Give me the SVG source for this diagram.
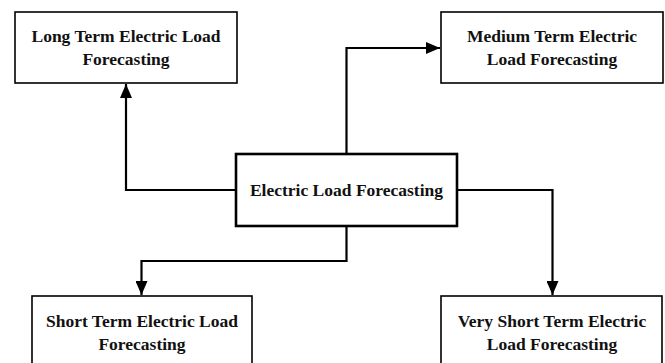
<svg xmlns="http://www.w3.org/2000/svg" width="665" height="363" viewBox="0 0 665 363">
<style>
.box{fill:#fff;stroke:#000;stroke-width:1.6}
.main{fill:#fff;stroke:#000;stroke-width:2.6}
.t{font-family:"Liberation Serif","Times New Roman",serif;font-weight:bold;font-size:17.5px;fill:#111;text-anchor:middle}
.c{fill:none;stroke:#000;stroke-width:2.2}
</style>
<defs>
<marker id="ah" viewBox="0 0 14 12" refX="14" refY="6" markerWidth="14" markerHeight="12" markerUnits="userSpaceOnUse" orient="auto">
<path d="M0,0 L14,6 L0,12 Z" fill="#000"/>
</marker>
</defs>
<rect width="665" height="363" fill="#fff"/>
<g id="connectors">
<path class="c" d="M236,190 H126 V84" marker-end="url(#ah)"/>
<path class="c" d="M346.5,154 V48 H440" marker-end="url(#ah)"/>
<path class="c" d="M457,190 H552.5 V295" marker-end="url(#ah)"/>
<path class="c" d="M346.5,226 V261 H141.5 V295" marker-end="url(#ah)"/>
</g>
<g id="long">
<rect class="box" x="15" y="12" width="222" height="71"/>
<text class="t" x="126" y="42">Long Term Electric Load</text>
<text class="t" x="126" y="65">Forecasting</text>
</g>
<g id="medium">
<rect class="box" x="441" y="12" width="222" height="71"/>
<text class="t" x="552" y="42">Medium Term Electric</text>
<text class="t" x="552" y="65">Load Forecasting</text>
</g>
<g id="main">
<rect class="main" x="236" y="154" width="221" height="72"/>
<text class="t" x="346.5" y="196">Electric Load Forecasting</text>
</g>
<g id="short">
<rect class="box" x="32" y="296" width="220" height="80"/>
<text class="t" x="142" y="327">Short Term Electric Load</text>
<text class="t" x="142" y="350">Forecasting</text>
</g>
<g id="veryshort">
<rect class="box" x="441" y="296" width="221" height="80"/>
<text class="t" x="552" y="327">Very Short Term Electric</text>
<text class="t" x="552" y="350">Load Forecasting</text>
</g>
</svg>
